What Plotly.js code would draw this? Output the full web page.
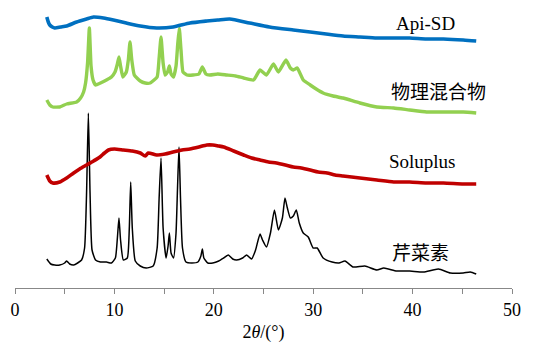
<!DOCTYPE html>
<html>
<head>
<meta charset="utf-8">
<script src="https://cdn.plot.ly/plotly-3.0.1.min.js"></script>
<style>html,body{margin:0;padding:0;background:#fff;}#chart{width:538px;height:344px;}</style>
</head>
<body>
<div id="chart"></div>
<script>
// 2θ (degrees) and stacked intensity (arbitrary units, offset per sample)
const apigeninX = [3.2,3.6,4.0,4.5,5.0,5.2,5.5,5.9,6.3,6.7,7.0,7.2,7.38,7.55,7.75,8.1,8.6,9.2,9.7,10.1,10.3,10.46,10.62,10.9,11.3,11.5,11.64,11.8,12.1,12.6,13.2,13.9,14.3,14.5,14.69,14.9,15.2,15.4,15.53,15.7,15.95,16.2,16.35,16.5,16.65,16.85,17.2,17.8,18.4,18.7,18.85,19.0,19.4,19.9,20.5,21.0,21.46,21.9,22.3,22.9,23.3,23.8,24.2,24.65,24.9,25.3,25.7,26.1,26.5,26.9,27.16,27.4,27.7,28.0,28.3,28.6,29.0,29.5,30.0,30.4,31.0,31.9,32.6,33.2,34.0,35.2,36.4,37.1,38.4,39.7,41.1,42.6,43.8,45.1,45.8,46.4];
const apigeninY = [29,24,23,23,25,27,24,23,25,28,40,95,175,95,38,28,26,26,25,30,50,70,48,28,30,60,106,60,27,22,20,22,40,90,130,60,30,42,55,35,30,55,100,141,90,40,26,25,26,32,39,30,25,25,27,30,33,29,28,30,33,29,38,54,48,41,55,78,58,70,90,80,70,72,78,65,55,51,40,40,30,26,25,27,21,22,18,20,17,17,16,19,15,15,16,14];

const soluplusX = [3.2,3.5,3.8,4.5,5.2,5.9,6.5,7.2,7.9,8.55,9.0,9.4,10.0,10.9,11.8,12.6,13.1,13.4,14.25,15.1,15.9,16.8,17.6,18.5,19.3,19.9,20.5,21.0,22.0,23.0,23.8,24.65,25.5,26.3,27.2,28.0,28.8,29.7,30.5,31.4,32.2,33.0,34.7,36.4,38.1,39.7,41.4,43.1,45.1,46.4];
const soluplusY = [113,107,105,106,110,115,119,123,127,131,135,138,139,138,137,135,132,135,133,134,136,138,139,141,143,143,142,141,137,133,130,128,126,125,123,121,120,118,116,115,113,112,110,108,106,106,105,105,104,104];

const mixtureX = [3.2,3.5,3.8,4.5,5.2,6.2,6.6,6.9,7.1,7.3,7.48,7.65,7.85,8.1,8.6,9.2,9.7,10.06,10.3,10.46,10.62,10.85,11.2,11.4,11.57,11.75,12.0,12.6,13.1,13.6,14.3,14.5,14.69,14.9,15.1,15.35,15.53,15.7,15.95,16.2,16.38,16.53,16.7,16.9,17.3,17.9,18.5,18.85,19.2,19.6,20.4,21.3,22.2,23.0,24.0,24.65,25.3,26.0,26.5,27.26,27.7,28.0,28.4,29.0,29.7,30.3,31.0,32.0,33.0,34.7,36.4,38.1,39.7,41.4,43.1,45.1,46.4];
const mixtureY = [188,183,181,181,184,186,190,196,205,225,260,222,208,203,205,208,211,216,224,231,222,211,216,228,246,228,213,207,205,205,211,230,251,225,213,216,222,214,211,222,245,260,238,216,213,213,214,221,214,213,214,213,212,210,208,218,213,224,216,228,220,218,220,208,203,199,195,192,190,185,181,180,178,176,176,176,175];

const apiSDX = [3.2,3.35,3.5,3.75,4.0,4.6,5.2,6.2,7.2,7.9,8.9,9.9,11.2,12.6,14.25,15.9,17.6,19.3,20.4,21.6,23.6,25.6,28.0,29.7,31.3,33.0,34.7,36.4,38.1,39.7,41.4,43.1,45.1,46.4];
const apiSDY = [271,266,263,261,260,261,262,266,269,271,270,268,265,262,260,261,265,267,268,269,265,261,258,256,254,252,251,250,250,250,249,249,248,247];

const seriesNames = ['芹菜素', 'Soluplus', '物理混合物', 'Api-SD'];
const xTickVals = [0,5,10,15,20,25,30,35,40,45,50];
const xTickText = ['0','','10','','20','','30','','40','','50'];

const serif = 'Liberation Serif, Noto Sans CJK SC, serif';

const traces = [
  {x: apigeninX, y: apigeninY, name: seriesNames[0], mode: 'lines', line: {color: '#000000', width: 1.5, shape: 'spline', smoothing: 0.5}},
  {x: soluplusX, y: soluplusY, name: seriesNames[1], mode: 'lines', line: {color: '#C00000', width: 3.6, shape: 'spline', smoothing: 0.6}},
  {x: mixtureX, y: mixtureY, name: seriesNames[2], mode: 'lines', line: {color: '#92D050', width: 3.4, shape: 'spline', smoothing: 0.4}},
  {x: apiSDX, y: apiSDY, name: seriesNames[3], mode: 'lines', line: {color: '#0070C0', width: 3.6, shape: 'spline', smoothing: 0.6}}
];

const labelX = [40.8, 41.0, 42.6, 41.3];
const labelY = [35, 127, 196, 265];

const annotations = seriesNames.map((t, i) => ({
  x: labelX[i], y: labelY[i], xref: 'x', yref: 'y', text: t, showarrow: false,
  xanchor: 'center', yanchor: 'middle',
  font: {family: serif, size: 19, color: '#000'}
}));

const layout = {
  width: 538, height: 344,
  margin: {l: 15, r: 26, t: 0, b: 56},
  paper_bgcolor: '#fff', plot_bgcolor: '#fff',
  showlegend: false,
  font: {family: serif},
  xaxis: {
    range: [0, 50], tickvals: xTickVals, ticktext: xTickText,
    ticks: 'outside', ticklen: 5, tickcolor: '#888', tickwidth: 1,
    showline: true, linecolor: '#888', linewidth: 1,
    showgrid: false, zeroline: false,
    tickfont: {family: serif, size: 18, color: '#000'},
    title: {text: '2<i>θ</i>/(°)', font: {family: serif, size: 18, color: '#000'}, standoff: 6}
  },
  yaxis: {range: [0, 288], visible: false, showgrid: false, zeroline: false},
  annotations: annotations
};

Plotly.newPlot('chart', traces, layout, {staticPlot: true, displayModeBar: false});
</script>
</body>
</html>
